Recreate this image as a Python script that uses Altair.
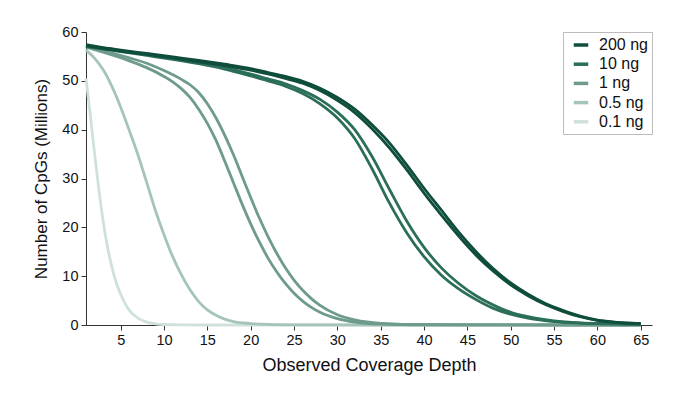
import altair as alt
import pandas as pd

# ---- data ----
labels = ["200 ng", "10 ng", "1 ng", "0.5 ng", "0.1 ng"]
colors = ["#0f4d3c", "#2b6e5a", "#6e9b8c", "#a5c4ba", "#cfe1db"]

x_200 = [1, 3, 5, 8, 11, 14, 17, 20, 22, 24, 26, 28, 30, 32, 34, 36, 38, 40, 42, 44, 46, 48, 50, 52, 54, 56, 58, 60, 62, 65]
y_200a = [57.4, 56.8, 56.3, 55.6, 54.9, 54.2, 53.4, 52.5, 51.7, 50.9, 49.9, 48.5, 46.6, 44.2, 41.0, 37.3, 32.8, 28.0, 23.5, 19.0, 15.0, 11.5, 8.6, 6.3, 4.4, 3.0, 1.8, 1.0, 0.6, 0.3]
y_200b = [57.2, 56.6, 56.1, 55.4, 54.7, 53.9, 53.1, 52.2, 51.4, 50.5, 49.5, 48.0, 46.0, 43.5, 40.2, 36.3, 31.8, 27.0, 22.5, 18.2, 14.3, 11.0, 8.2, 6.0, 4.2, 2.8, 1.7, 0.95, 0.55, 0.3]

x_10 = [1, 3, 5, 8, 11, 14, 17, 20, 22, 24, 26, 28, 30, 32, 34, 36, 38, 40, 42, 44, 46, 48, 50, 52, 55, 58, 61, 65]
y_10a = [57.0, 56.5, 56.0, 55.2, 54.4, 53.5, 52.4, 51.0, 50.0, 48.9, 47.4, 45.3, 42.4, 38.2, 32.0, 25.0, 18.9, 14.0, 10.2, 7.4, 5.2, 3.4, 2.2, 1.4, 0.7, 0.4, 0.25, 0.15]
y_10b = [57.1, 56.7, 56.2, 55.4, 54.6, 53.7, 52.7, 51.4, 50.4, 49.4, 48.0, 46.2, 43.6, 40.0, 34.5, 27.8, 21.3, 15.9, 11.7, 8.5, 6.0, 4.1, 2.6, 1.7, 0.85, 0.45, 0.28, 0.15]

x_1a = [1, 2, 4, 6, 8, 10, 11, 12, 13, 14, 15, 16, 17, 18, 19, 20, 21, 22, 23, 24, 25, 26, 27, 28, 30, 32, 35, 40, 50, 65]
y_1a = [56.9, 56.4, 55.3, 54.1, 52.7, 50.9, 49.8, 48.4, 46.6, 44.2, 41.3, 37.8, 33.6, 29.2, 24.8, 20.7, 17.0, 13.7, 10.9, 8.5, 6.5, 4.9, 3.6, 2.6, 1.3, 0.6, 0.2, 0.05, 0.01, 0.0]
x_1b = [1, 2, 4, 6, 8, 10, 12, 13, 14, 15, 16, 17, 18, 19, 20, 21, 22, 23, 24, 25, 26, 27, 28, 30, 32, 35, 40, 50, 65]
y_1b = [57.0, 56.6, 55.7, 54.7, 53.6, 52.1, 50.3, 49.2, 47.6, 45.3, 42.4, 38.9, 34.9, 30.5, 26.1, 21.9, 18.1, 14.7, 11.7, 9.2, 7.1, 5.4, 4.0, 2.1, 1.05, 0.35, 0.08, 0.02, 0.0]

x_05 = [1, 2, 3, 4, 5, 6, 7, 8, 9, 10, 11, 12, 13, 14, 15, 16, 17, 18, 20, 22, 25, 30, 40, 65]
y_05 = [56.3, 54.6, 52.2, 48.8, 44.6, 39.8, 34.8, 29.2, 23.5, 18.5, 14.0, 10.3, 7.2, 4.8, 3.1, 2.0, 1.2, 0.7, 0.3, 0.12, 0.04, 0.01, 0.0, 0.0]

x_01 = [1, 1.5, 2, 2.5, 3, 3.5, 4, 4.5, 5, 6, 7, 8, 9, 10, 12, 15, 20, 65]
y_01 = [50.5, 43.0, 35.0, 27.5, 21.0, 15.8, 11.8, 8.6, 6.3, 3.0, 1.4, 0.6, 0.25, 0.1, 0.02, 0.0, 0.0, 0.0]

x_ticks = [5, 10, 15, 20, 25, 30, 35, 40, 45, 50, 55, 60, 65]
y_ticks = [0, 10, 20, 30, 40, 50, 60]

# ---- build table (light series first so dark ones draw on top) ----
series = [
    ("0.1 ng", "0.1a", x_01, y_01),
    ("0.5 ng", "0.5a", x_05, y_05),
    ("1 ng", "1a", x_1a, y_1a),
    ("1 ng", "1b", x_1b, y_1b),
    ("10 ng", "10a", x_10, y_10a),
    ("10 ng", "10b", x_10, y_10b),
    ("200 ng", "200a", x_200, y_200a),
    ("200 ng", "200b", x_200, y_200b),
]
rows = []
for lab, rep, xs, ys in series:
    for xv, yv in zip(xs, ys):
        rows.append({"sample": lab, "rep": rep, "depth": xv, "cpgs": yv})
df = pd.DataFrame(rows)

FONT = "Liberation Sans"

chart = alt.Chart(df).mark_line(strokeWidth=2.8, interpolate="monotone").encode(
    x=alt.X("depth:Q",
            scale=alt.Scale(domain=[1, 66.3], nice=False, zero=False),
            axis=alt.Axis(values=x_ticks, title="Observed Coverage Depth",
                          grid=False, tickSize=5, labelPadding=3, titlePadding=10,
                          titleFontSize=18)),
    y=alt.Y("cpgs:Q",
            scale=alt.Scale(domain=[0, 60], nice=False),
            axis=alt.Axis(values=y_ticks, title="Number of CpGs (Millions)",
                          grid=False, tickSize=5, labelPadding=3, titlePadding=11,
                          titleFontSize=17)),
    color=alt.Color("sample:N",
                    scale=alt.Scale(domain=labels, range=colors),
                    legend=alt.Legend(title=None, orient="none", legendX=477, legendY=0,
                                      symbolType="stroke", symbolStrokeWidth=3.5,
                                      symbolSize=210, symbolOffset=5,
                                      labelFontSize=16, labelFont=FONT,
                                      labelColor="#111111",
                                      labelOffset=9, rowPadding=2.2, padding=4,
                                      strokeColor="#bbbbbb", fillColor="white",
                                      labelExpr="datum.label + '\u00a0\u00a0\u00a0\u00a0'")),
    detail="rep:N",
    order=alt.Order("depth:Q"),
).properties(
    width=566,
    height=293,
    autosize=alt.AutoSizeParams(type="none"),
    padding={"left": 78, "top": 24, "right": 30, "bottom": 58},
).configure_view(
    stroke=None
).configure_axis(
    labelFont=FONT, titleFont=FONT, labelFontSize=14.5,
    titleFontWeight="normal", labelColor="#111111", titleColor="#111111",
    domainColor="#333333", tickColor="#333333", domainWidth=1, tickWidth=1
)

chart.save("out.html", embed_options={"renderer": "svg", "actions": False})
